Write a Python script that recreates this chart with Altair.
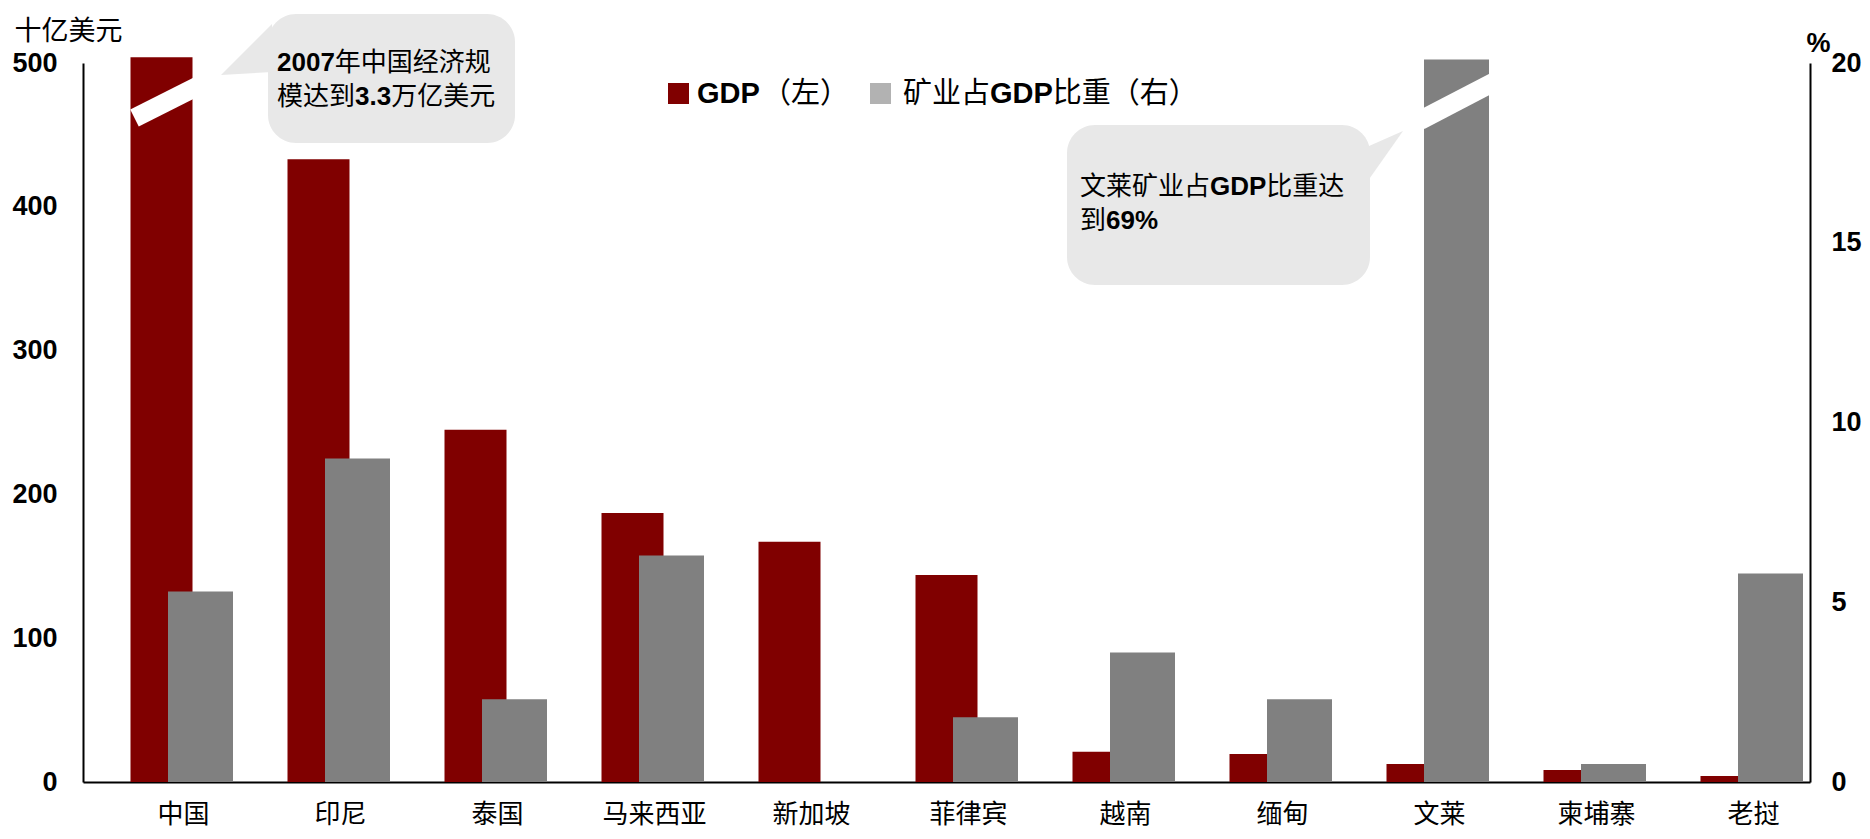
import altair as alt
import pandas as pd

# ---------------- data ----------------
countries = ["中国", "印尼", "泰国", "马来西亚", "新加坡", "菲律宾",
             "越南", "缅甸", "文莱", "柬埔寨", "老挝"]
gdp_bn = [3300, 433, 245, 187, 167, 144, 21, 19.5, 12.5, 8.3, 4.2]      # 十亿美元 (left)
mining_share = [5.3, 9.0, 2.3, 6.3, 0, 1.8, 3.6, 2.3, 69, 0.5, 5.8]    # % (right)
gdp_ticks = [0, 100, 200, 300, 400, 500]
share_ticks = [0, 5, 10, 15, 20]

GDP_MAX, SHARE_MAX = 500, 20
GDP_CAP, SHARE_CAP = 504, 20.1          # truncated (broken) bars

df = pd.DataFrame({"country": countries, "gdp": gdp_bn, "share": mining_share})
df["gdp_shown"] = df["gdp"].clip(upper=GDP_CAP)
df["share_shown"] = df["share"].clip(upper=SHARE_CAP)

# ---------------- styles ----------------
RED, GREY, LEG_GREY, BUBBLE = "#800000", "#808080", "#b2b2b2", "#e8e8e8"
LATIN, CJK = "Liberation Sans", "Noto Sans CJK SC"
W, H = 1727, 719
DUMMY = alt.Data(values=[{"a": 1}])

x_axis = alt.Axis(title=None, labelAngle=0, labelFont=CJK, labelFontSize=26,
                  labelColor="black", labelPadding=32, labelBaseline="middle",
                  labelOffset=22, ticks=False, tickSize=0, domainColor="black",
                  domainWidth=2, grid=False)
x_scale = alt.Scale(paddingInner=0, paddingOuter=0)
x_enc = alt.X("country:N", sort=countries, scale=x_scale, axis=x_axis)

left_axis = alt.Axis(orient="left", values=gdp_ticks, title="十亿美元", titleAngle=0,
                     titleAlign="left", titleBaseline="middle", titleX=-69, titleY=-32,
                     titleFont=CJK, titleFontSize=27, titleFontWeight="normal",
                     titleColor="black", labelFont=LATIN, labelFontSize=27,
                     labelFontWeight="bold", labelColor="black", labelPadding=26,
                     ticks=False, tickSize=0, grid=False, domainColor="black",
                     domainWidth=2)
right_axis = alt.Axis(orient="right", values=share_ticks, title="%", titleAngle=0,
                      titleAlign="center", titleBaseline="middle", titleX=8, titleY=-20,
                      titleFont=LATIN, titleFontSize=27, titleFontWeight="bold",
                      titleColor="black", labelFont=LATIN, labelFontSize=27,
                      labelFontWeight="bold", labelColor="black", labelPadding=21,
                      ticks=False, tickSize=0, grid=False, domainColor="black",
                      domainWidth=2)

gdp_scale = alt.Scale(domain=[0, GDP_MAX], nice=False, zero=True)
share_scale = alt.Scale(domain=[0, SHARE_MAX], nice=False, zero=True)

red_bars = alt.Chart(df).mark_bar(color=RED, width=62).encode(
    x=x_enc, y=alt.Y("gdp_shown:Q", scale=gdp_scale, axis=left_axis))

china_break = alt.Chart(pd.DataFrame({"country": ["中国"], "gdp_shown": [461.8], "y2": [484.8]})).mark_rule(
    color="white", strokeWidth=19, strokeCap="butt", xOffset=-27, x2Offset=39
).encode(x=x_enc, x2="country:N",
         y=alt.Y("gdp_shown:Q", scale=gdp_scale, axis=left_axis), y2="y2:Q")

grey_bars = alt.Chart(df).mark_bar(color=GREY, width=65, xOffset=39).encode(
    x=x_enc, y=alt.Y("share_shown:Q", scale=share_scale, axis=right_axis))

brunei_break = alt.Chart(pd.DataFrame({"country": ["文莱"], "share_shown": [18.40], "y2": [19.56]})).mark_rule(
    color="white", strokeWidth=19, strokeCap="butt", xOffset=2.5, x2Offset=82.5
).encode(x=x_enc, x2="country:N",
         y=alt.Y("share_shown:Q", scale=share_scale, axis=right_axis), y2="y2:Q")

left_group = alt.layer(red_bars, china_break)
right_group = alt.layer(grey_bars, brunei_break)

# ---------------- annotations ----------------
BOLD_W = {"0": .556, "1": .556, "2": .556, "3": .556, "4": .556, "5": .556, "6": .556,
          "7": .556, "8": .556, "9": .556, ".": .278, "%": .889, "G": .778, "D": .722,
          "P": .667}


def seg_width(s, size, bold):
    if bold:
        return sum(BOLD_W.get(c, .6) for c in s) * size
    return len(s) * size


def text_line(x0, y, pieces, size):
    layers, x = [], x0
    for s, bold in pieces:
        layers.append(alt.Chart(DUMMY).mark_text(
            align="left", baseline="middle", font=LATIN if bold else CJK, fontSize=size,
            fontWeight="bold" if bold else "normal", color="black"
        ).encode(x=alt.value(x), y=alt.value(y), text=alt.value(s)))
        x += seg_width(s, size, bold)
    return layers


def box(x1, x2, y1, y2):
    return alt.Chart(DUMMY).mark_rect(cornerRadius=28, color=BUBBLE).encode(
        x=alt.value(x1), x2=alt.value(x2), y=alt.value(y1), y2=alt.value(y2))


def tail(x, y, path):
    return alt.Chart(DUMMY).mark_point(shape=path, size=4, filled=True, color=BUBBLE,
                                       opacity=1, strokeWidth=0).encode(
        x=alt.value(x), y=alt.value(y))


def swatch(x1, color):
    return alt.Chart(DUMMY).mark_rect(color=color).encode(
        x=alt.value(x1), x2=alt.value(x1 + 21), y=alt.value(20), y2=alt.value(41))


ann = [
    box(185, 432, -49, 80), tail(138, 12, "M0,0 L51,-51 L51,-3 Z"),
    box(984, 1287, 62, 222), tail(1320, 68, "M0,0 L-43,19 L-43,61 Z"),
]
ann += text_line(194, 0, [("2007", True), ("年中国经济规", False)], 26)
ann += text_line(194, 34, [("模达到", False), ("3.3", True), ("万亿美元", False)], 26)
ann += text_line(997, 124, [("文莱矿业占", False), ("GDP", True), ("比重达", False)], 26)
ann += text_line(997, 158, [("到", False), ("69%", True)], 26)

# legend
ann += [swatch(585, RED), swatch(787, LEG_GREY)]
ann += text_line(614, 31, [("GDP", True)], 29)
ann += text_line(679, 31, [("（左）", False)], 29)
ann += text_line(820, 31, [("矿业占", False), ("GDP", True), ("比重（右）", False)], 29)

chart = alt.layer(left_group, right_group, *ann).resolve_scale(
    y="independent"
).properties(
    width=W, height=H,
    autosize=alt.AutoSizeParams(type="none"),
    padding={"left": 75, "top": 55, "right": 52, "bottom": 46},
    background="white",
).configure_view(strokeWidth=0)

chart.save("out.html", embed_options={"renderer": "svg", "actions": False})
